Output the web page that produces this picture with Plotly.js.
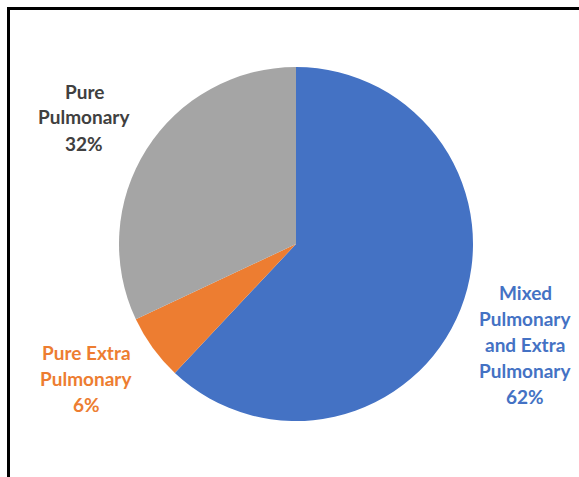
<!DOCTYPE html>
<html>
<head>
<meta charset="utf-8">
<script src="https://cdn.plot.ly/plotly-3.0.1.min.js"></script>
<style>html,body{margin:0;padding:0;background:#fff;}#chart{width:579px;height:477px;}</style>
</head>
<body>
<div id="chart"></div>
<script>
const categories = ["Mixed Pulmonary and Extra Pulmonary", "Pure Extra Pulmonary", "Pure Pulmonary"];
const labelLines = [["Mixed", "Pulmonary", "and Extra", "Pulmonary"], ["Pure Extra", "Pulmonary"], ["Pure", "Pulmonary"]];
const values = [62, 6, 32];
const colors = ["#4472C4", "#ED7D31", "#A5A5A5"];
const textColors = ["#4472C4", "#ED7D31", "#404040"];

const W = 579, H = 477;
const cx = 296, cy = 244, R = 177;
// label anchor positions (pixel, first line center)
const labelPos = [[525, 292], [86, 352], [84, 91]];
const lineGap = 26;

const annotations = [];
categories.forEach((c, i) => {
  const lines = labelLines[i].concat([values[i] + "%"]);
  lines.forEach((t, j) => {
    annotations.push({
      text: "<b>" + t + "</b>",
      x: labelPos[i][0] / W, y: 1 - (labelPos[i][1] + j * lineGap) / H,
      xref: "paper", yref: "paper", xanchor: "center", yanchor: "middle",
      showarrow: false,
      font: {family: "Lato, 'Open Sans', sans-serif", size: 19, color: textColors[i]}
    });
  });
});

const trace = {
  type: "pie",
  labels: categories,
  values: values,
  marker: {colors: colors, line: {color: "#ffffff", width: 0}},
  sort: false,
  direction: "clockwise",
  rotation: 0,
  textinfo: "none",
  hoverinfo: "label+percent",
  domain: {x: [(cx - R) / W, (cx + R) / W], y: [(H - cy - R) / H, (H - cy + R) / H]},
  showlegend: false
};

const layout = {
  width: W, height: H,
  margin: {l: 0, r: 0, t: 0, b: 0},
  paper_bgcolor: "#ffffff",
  showlegend: false,
  annotations: annotations,
  shapes: [
    {type: "line", xref: "paper", yref: "paper", x0: 8.5 / W, x1: 1, y0: 1 - 8.5 / H, y1: 1 - 8.5 / H, line: {color: "#000", width: 3}},
    {type: "line", xref: "paper", yref: "paper", x0: 8.5 / W, x1: 8.5 / W, y0: 0, y1: 1 - 7 / H, line: {color: "#000", width: 3}}
  ]
};

Plotly.newPlot("chart", [trace], layout, {displayModeBar: false, staticPlot: true});
</script>
</body>
</html>
